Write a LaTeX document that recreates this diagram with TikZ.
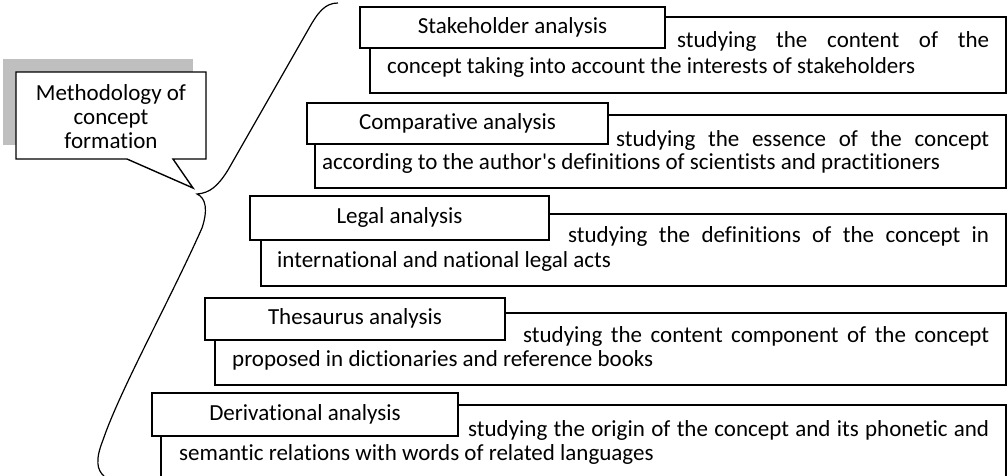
\documentclass[tikz,border=0pt]{standalone}
\usepackage{fontspec}
\setmainfont{Carlito}[Ligatures={TeXOff,CommonOff}]
\begin{document}
\begin{tikzpicture}[x=1pt,y=-1pt,font=\fontsize{23}{26}\selectfont,
	titlebox/.style={draw,line width=1.8pt,fill=white,inner sep=0pt,text height=16pt,text depth=5pt},
	descbox/.style={draw,line width=1.2pt,inner sep=0pt},
	descline/.style={anchor=base west,inner sep=0pt}]
	\useasboundingbox (0,0) rectangle (1008,475);
	
	%callout with shadow
	\fill[black!25] (3,59) rectangle (193,145);
	\draw[line width=1.4pt,fill=white] (16,72) -- (206,72) -- (206,159) -- (173,159) -- (193,188) 
	-- (127,159) -- (16,159) -- cycle;
	\node[align=center,inner sep=0pt,font=\fontsize{23}{24}\selectfont] (method) at (111,117) {Methodology of\\concept\\formation};
	
	%brace
	\draw[line width=1.2pt] (338,3) .. controls (325,3) and (318,12) .. (308,30) -- (228,170) 
	.. controls (218,186) and (210,193) .. (197,194) .. controls (206,198) and (208,210) .. (202,228) 
	.. controls (170,300) and (120,390) .. (103,440) .. controls (95,460) and (97,470) .. (104,476);
	
	\node[descbox,minimum width=636pt,minimum height=76pt] (stakedesc) at (688,55) {};
	\node[titlebox,minimum width=305pt,minimum height=41pt] (stake) at (512.5,27.5) {Stakeholder analysis};
	\node[descline] (stakeone) at (677,47) {\makebox[312pt][s]{studying the content of the}};
	\node[descline] (staketwo) at (387,73) {concept taking into account the interests of stakeholders};
	
	\node[descbox,minimum width=691pt,minimum height=73pt] (compdesc) at (660.5,151.5) {};
	\node[titlebox,minimum width=301pt,minimum height=41pt] (comp) at (457.5,123.5) {Comparative analysis};
	\node[descline] (compone) at (616,146) {\makebox[373pt][s]{studying the essence of the concept}};
	\node[descline] (comptwo) at (322,169) {according to the author's definitions of scientists and practitioners};
	
	\node[descbox,minimum width=745pt,minimum height=72pt] (legaldesc) at (633.5,250) {};
	\node[titlebox,minimum width=299pt,minimum height=44pt] (legal) at (399.5,218) {Legal analysis};
	\node[descline] (legalone) at (568,242) {\makebox[421pt][s]{studying the definitions of the concept in}};
	\node[descline] (legaltwo) at (277,267) {international and national legal acts};
	
	\node[descbox,minimum width=791pt,minimum height=72pt] (thesdesc) at (610.5,349) {};
	\node[titlebox,minimum width=300pt,minimum height=42pt] (thes) at (355,319) {Thesaurus analysis};
	\node[descline] (thesone) at (523,342) {\makebox[466pt][s]{studying the content component of the concept}};
	\node[descline] (thestwo) at (232,366) {proposed in dictionaries and reference books};
	
	\node[descbox,minimum width=845pt,minimum height=80pt] (derivdesc) at (583.5,445) {};
	\node[titlebox,minimum width=306pt,minimum height=43pt] (deriv) at (305,414.5) {Derivational analysis};
	\node[descline] (derivone) at (468,436) {\makebox[521pt][s]{studying the origin of the concept and its phonetic and}};
	\node[descline] (derivtwo) at (179,460) {semantic relations with words of related languages};
\end{tikzpicture}
\end{document}
